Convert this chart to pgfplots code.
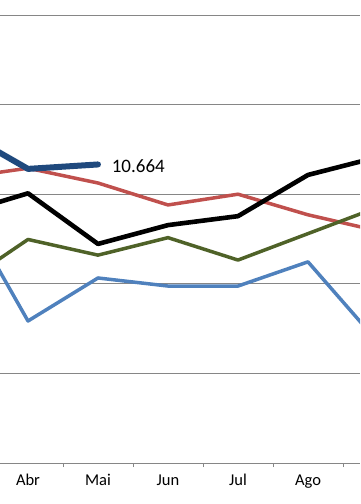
\documentclass[border=0pt]{standalone}
\usepackage{pgfplots}
\pgfplotsset{compat=1.18}
\usepackage{fontspec}
\setmainfont{Carlito}
\definecolor{lblue}{HTML}{4F81BD}
\definecolor{lred}{HTML}{C0504D}
\definecolor{lgreen}{HTML}{4F6228}
\definecolor{dblue}{HTML}{1F497D}
\definecolor{gridgray}{HTML}{868686}
\begin{document}
\begin{tikzpicture}
\useasboundingbox (0,0) rectangle (360pt,504pt);
\begin{axis}[
  at={(0pt,41pt)}, anchor=south west,
  scale only axis, width=360pt, height=463pt,
  xmin=2.6, xmax=7.7429, ymin=4, ymax=14.335,
  axis x line=bottom, axis y line=left,
  x axis line style={gridgray, -, line width=1pt},
  y axis line style={draw=none},
  xtick={0,...,11},
  xticklabels={Jan,Fev,Mar,Abr,Mai,Jun,Jul,Ago,Set,Out,Nov,Dez},
  major tick length=0pt,
  minor xtick={0.5,1.5,...,10.5},
  minor tick length=4pt,
  tick align=outside,
  minor x tick style={gridgray, line width=1pt},
  ytick={6,8,10,12,14}, yticklabels={}, ymajorgrids,
  major grid style={gridgray, line width=1pt},
  xticklabel style={font=\fontsize{16.5}{18}\selectfont, yshift=-8pt},
  clip=true,
]
\addplot[lblue, line width=3.5pt, line join=round] coordinates {(2,9.92)(3,7.17)(4,8.13)(5,7.95)(6,7.95)(7,8.49)(8,6.70)};
\addplot[lred, line width=3.5pt, line join=round] coordinates {(2,10.36)(3,10.58)(4,10.25)(5,9.76)(6,10.0)(7,9.54)(8,9.18)};
\addplot[lgreen, line width=3.5pt, line join=round] coordinates {(2,7.93)(3,8.99)(4,8.64)(5,9.03)(6,8.53)(7,9.12)(8,9.71)};
\addplot[black, line width=4.6pt, line join=round] coordinates {(2,9.55)(3,10.02)(4,8.89)(5,9.31)(6,9.51)(7,10.43)(8,10.83)};
\addplot[dblue, line width=6pt, line join=round, line cap=round] coordinates {(2,11.46)(3,10.565)(4,10.664)} node[pos=1, anchor=west, xshift=7.5pt, yshift=-1.5pt, text=black, font=\fontsize{19}{22}\selectfont] {10.664};
\end{axis}
\end{tikzpicture}
\end{document}
